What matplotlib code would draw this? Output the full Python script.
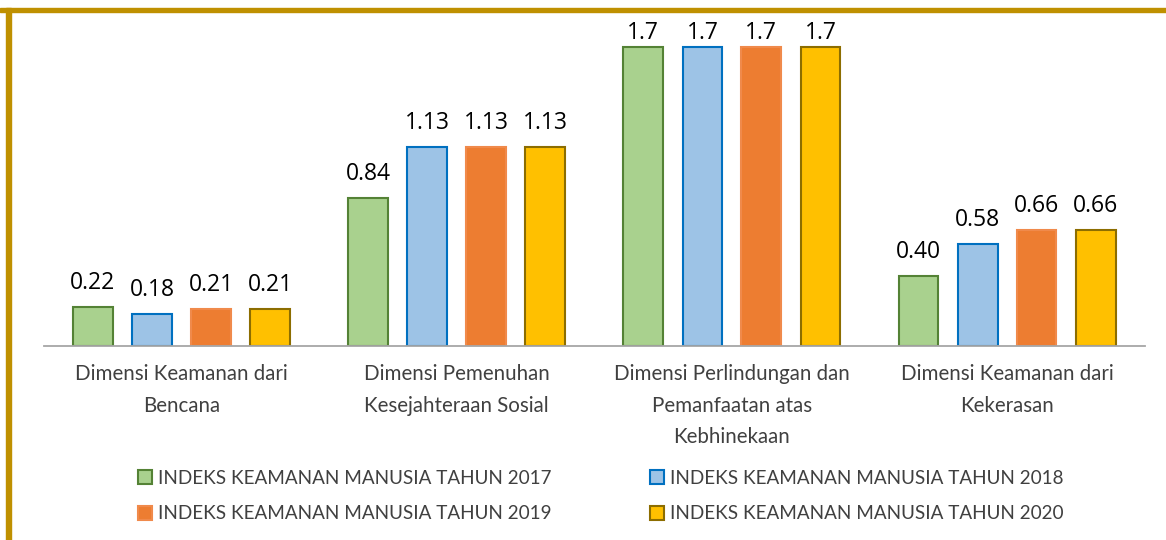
import numpy as np
import matplotlib.pyplot as plt
from matplotlib.patches import Rectangle

categories = ["Dimensi Keamanan dari\nBencana",
              "Dimensi Pemenuhan\nKesejahteraan Sosial",
              "Dimensi Perlindungan dan\nPemanfaatan atas\nKebhinekaan",
              "Dimensi Keamanan dari\nKekerasan"]
series_names = ["INDEKS KEAMANAN MANUSIA TAHUN 2017",
                "INDEKS KEAMANAN MANUSIA TAHUN 2018",
                "INDEKS KEAMANAN MANUSIA TAHUN 2019",
                "INDEKS KEAMANAN MANUSIA TAHUN 2020"]
v2017 = [0.22, 0.84, 1.7, 0.40]
v2018 = [0.18, 1.13, 1.7, 0.58]
v2019 = [0.21, 1.13, 1.7, 0.66]
v2020 = [0.21, 1.13, 1.7, 0.66]
label_fmt = ["{:.2f}", "{:.2f}", "{:.1f}", "{:.2f}"]

faces = ["#A9D18E", "#9DC3E6", "#ED7D31", "#FFC000"]
edges = ["#548235", "#0070C0", "#F08A4B", "#8C6D00"]

plt.rcParams['font.family'] = ['Lato', 'DejaVu Sans']

fig = plt.figure(figsize=(11.66, 5.4), dpi=100)
ax = fig.add_axes([0.0377, 0.359, 0.944, 0.619])

x = np.arange(len(categories))
width = 0.145
offsets = [-0.322, -0.107, 0.107, 0.322]
handles = []
for vals, off, fc, ec, name in zip([v2017, v2018, v2019, v2020], offsets,
                                    faces, edges, series_names):
    bars = ax.bar(x + off, vals, width, color=fc, edgecolor=ec,
                  linewidth=1.5, label=name, zorder=2)
    handles.append(bars)
    for xi, v, fmt in zip(x + off, vals, label_fmt):
        # labels sit above the bar, pushed down where they'd run off the top
        ax.text(xi, min(v + 0.103, 1.744), fmt.format(v), ha='center',
                va='baseline', fontsize=16.5, color='#000000',
                family=['Open Sans', 'DejaVu Sans'])

ax.set_xlim(-0.5, len(categories) - 0.5)
ax.set_ylim(0, 1.9)
for s in ['top', 'right', 'left']:
    ax.spines[s].set_visible(False)
ax.spines['bottom'].set_color('#A6A6A6')
ax.spines['bottom'].set_linewidth(1.3)
ax.set_yticks([])
ax.set_xticks(x)
ax.set_xticklabels(categories, fontsize=14.8, color='#404040',
                   linespacing=1.72)
ax.tick_params(axis='x', length=0, pad=13)

# legend laid out in two rows: 2017 | 2018 / 2019 | 2020
order = [0, 2, 1, 3]
fig.legend([handles[i] for i in order], [series_names[i] for i in order],
           ncol=2, loc='center', bbox_to_anchor=(0.515, 0.0815), frameon=False,
           handlelength=0.74, handleheight=0.74, handletextpad=0.32,
           columnspacing=5.2, labelspacing=1.0,
           prop={'family': ['Lato', 'DejaVu Sans'], 'size': 13.6})
for t in fig.legends[0].get_texts():
    t.set_color('#404040')

# gold frame along the top and left edges
gold = '#BF9000'
fig.patches.append(Rectangle((0.0, 1 - 12 / 540), 1.0, 4 / 540, transform=fig.transFigure,
                             color=gold, zorder=5))
fig.patches.append(Rectangle((6 / 1166, 0.0), 5 / 1166, 1 - 8 / 540,
                             transform=fig.transFigure, color=gold, zorder=5))

fig.savefig('out.png', dpi=100, facecolor='white')
